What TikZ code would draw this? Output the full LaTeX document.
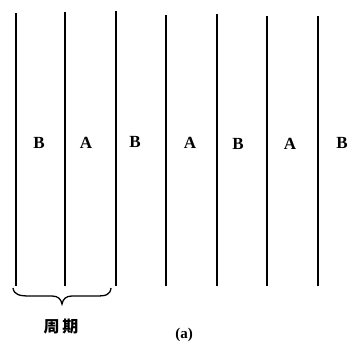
\documentclass[tikz,border=0pt]{standalone}
\usepackage{fontspec}
\setmainfont{Liberation Serif}
\newfontfamily\cjk{Noto Sans CJK SC}
\begin{document}
\begin{tikzpicture}[x=1pt,y=-1pt,
  wall/.style={line width=2pt},
  lab/.style={font=\fontsize{17}{17}\selectfont\bfseries, inner sep=0pt},
  bracepath/.style={line width=1.3pt}]
\useasboundingbox (0,0) rectangle (363,345);
\foreach \x/\t in {16/13, 65/12, 116/11, 166/15, 217/14, 267/16, 318/16}
  \draw[wall] (\x,\t) -- (\x,286);
\node[lab] (l1) at (39,143) {B};
\node[lab] (l2) at (86,143) {A};
\node[lab] (l3) at (135,142) {B};
\node[lab] (l4) at (190,143) {A};
\node[lab] (l5) at (238,144) {B};
\node[lab] (l6) at (290,144) {A};
\node[lab] (l7) at (342,143) {B};
\draw[bracepath] (13,288) .. controls (14,295) and (20,296) .. (30,296) -- (52,296)
  .. controls (58,296) and (61,299) .. (62,304)
  .. controls (63,299) and (66,296) .. (72,296) -- (96,296)
  .. controls (106,296) and (110,295) .. (111,288);
\node[inner sep=0pt, font=\cjk\bfseries\fontsize{16}{16}\selectfont] (period) at (61,327) {周\,期};
\node[inner sep=0pt, font=\fontsize{15}{15}\selectfont\bfseries] (cap) at (184,335) {(a)};
\end{tikzpicture}
\end{document}
